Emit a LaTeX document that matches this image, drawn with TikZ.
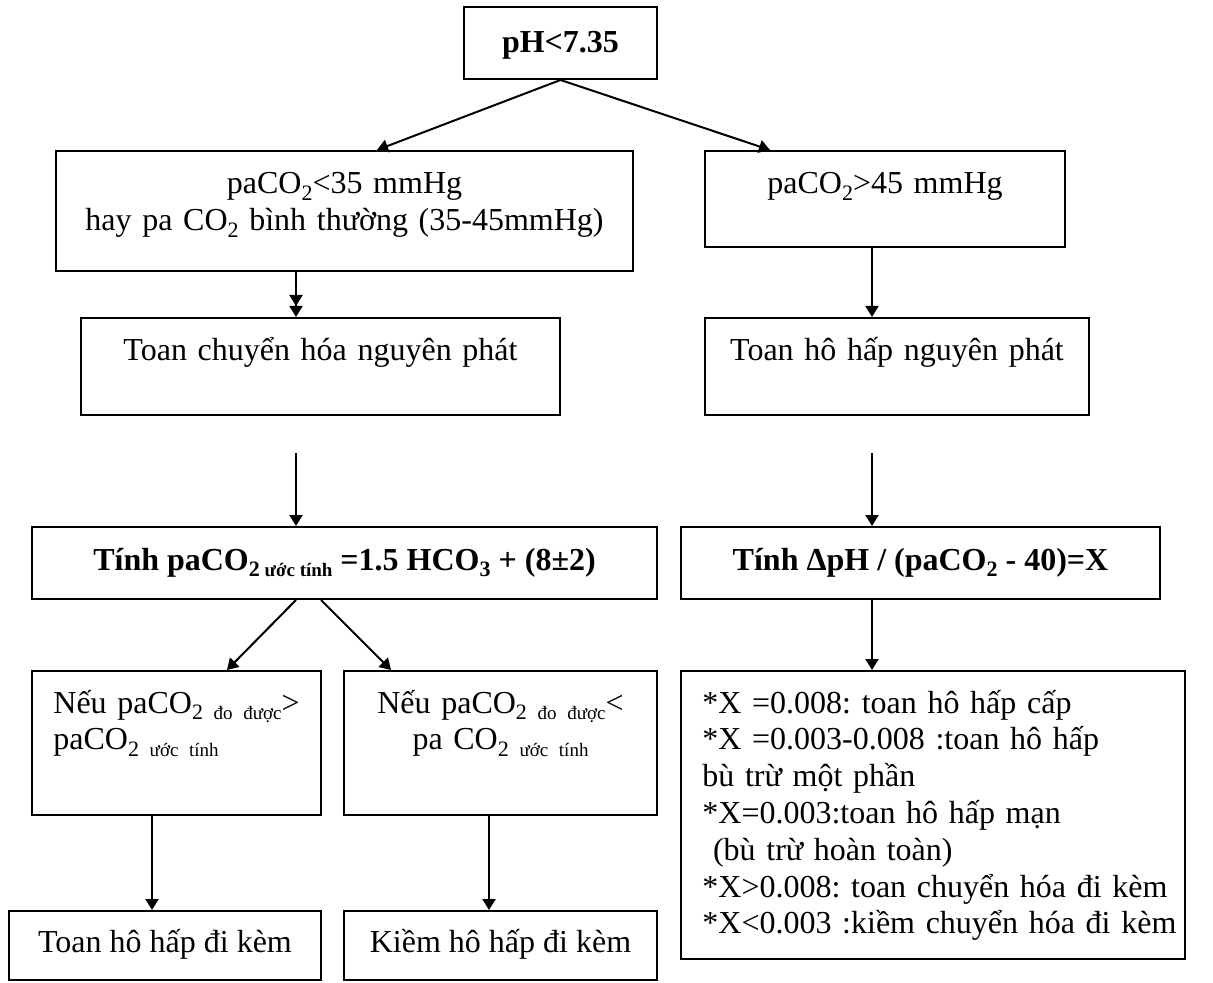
\documentclass[tikz,border=0pt]{standalone}
\usepackage{fontspec}
\setmainfont{Liberation Serif}
\usetikzlibrary{arrows.meta,fit,positioning}
\frenchspacing

\newcommand{\lowtext}[2][11]{\raisebox{-0.2em}{\fontsize{#1}{#1}\selectfont #2}}

\begin{document}
\begin{tikzpicture}[x=0.5pt, y=-0.5pt,
    font=\fontsize{16}{18.4}\selectfont,
    box/.style={draw, line width=1pt, inner sep=0pt},
    txt/.style={inner sep=0pt},
    arr/.style={-{Triangle[length=5.5pt,width=6.5pt]}, line width=1pt},
    arrtwo/.style={-{Triangle[length=5.5pt,width=6.5pt] Triangle[length=5.5pt,width=6.5pt]}, line width=1pt}]

    \useasboundingbox (0,0) rectangle (1213,983);

    % boxes
    \node[box, fit={(464,7) (657,79)}] (ph) {};
    \node[box, fit={(56,151) (633,271)}] (low) {};
    \node[box, fit={(705,151) (1065,247)}] (high) {};
    \node[box, fit={(81,318) (560,415)}] (metab) {};
    \node[box, fit={(705,318) (1089,415)}] (resp) {};
    \node[box, fit={(32,527) (657,599)}] (calcm) {};
    \node[box, fit={(681,527) (1160,599)}] (calcr) {};
    \node[box, fit={(32,671) (321,815)}] (above) {};
    \node[box, fit={(344,671) (657,815)}] (below) {};
    \node[box, fit={(681,671) (1185,959)}] (rules) {};
    \node[box, fit={(9,911) (321,980)}] (racid) {};
    \node[box, fit={(344,911) (657,980)}] (ralk) {};

    % texts
    \node[txt, anchor=base, font=\fontsize{16}{18.4}\selectfont\bfseries] (phtxt)
        at ([yshift=-5pt]ph.center) {pH<7.35};
    \node[txt, anchor=base, font=\fontsize{16}{18.4}\selectfont\bfseries] (calcmtxt)
        at ([yshift=-3.5pt]calcm.center)
        {Tính paCO\lowtext{2}\lowtext[9.5]{\ ước tính} =1.5 HCO\lowtext{3} + (8±2)};
    \node[txt, anchor=base, font=\fontsize{16}{18.4}\selectfont\bfseries] (calcrtxt)
        at ([yshift=-3.5pt]calcr.center) {Tính ΔpH / (paCO\lowtext{2} - 40)=X};
    \node[txt, anchor=base] (racidtxt) at ([yshift=-3.25pt]racid.center) {Toan hô hấp đi kèm};
    \node[txt, anchor=base] (ralktxt) at ([yshift=-3.25pt]ralk.center) {Kiềm hô hấp đi kèm};

    \node[txt, text width=280pt, align=center, anchor=base] (lowtxt) at (344.5,194)
        {paCO\lowtext{2}<35 mmHg\\hay pa CO\lowtext{2} bình thường (35-45mmHg)};
    \node[txt, text width=170pt, align=center, anchor=base] (hightxt) at (885,194)
        {paCO\lowtext{2}>45 mmHg};
    \node[txt, text width=230pt, align=center, anchor=base] (metabtxt) at (320.5,361)
        {Toan chuyển hóa nguyên phát};
    \node[txt, text width=185pt, align=center, anchor=base] (resptxt) at (897,361)
        {Toan hô hấp nguyên phát};
    \node[txt, text width=140pt, align=left, anchor=base west] (abovetxt) at (53,713)
        {Nếu paCO\lowtext{2}\lowtext[9.5]{\ đo được}>\\paCO\lowtext{2}\lowtext[9.5]{\ ước tính}};
    \node[txt, text width=150pt, align=center, anchor=base] (belowtxt) at (500.5,713)
        {Nếu paCO\lowtext{2}\lowtext[9.5]{\ đo được}<\\pa CO\lowtext{2}\lowtext[9.5]{\ ước tính}};
    \node[txt, text width=240pt, align=left, anchor=base west] (rulestxt) at (702,713)
        {*X =0.008: toan hô hấp cấp\\{}
         *X =0.003-0.008 :toan hô hấp\\{}
         bù trừ một phần\\{}
         *X=0.003:toan hô hấp mạn\\{}
         ~(bù trừ hoàn toàn)\\{}
         *X>0.008: toan chuyển hóa đi kèm\\{}
         *X<0.003 :kiềm chuyển hóa đi kèm};

    % columns of the straight arrows
    \coordinate (colL) at (296,0);
    \coordinate (colR) at (872,0);
    \coordinate (colA) at (152,0);
    \coordinate (colB) at (489,0);
    \coordinate (freeL) at (296,453);
    \coordinate (freeR) at (872,453);

    \draw[arr] (ph.south) -- ([xshift=16.25pt]low.north);
    \draw[arr] (ph.south) -- ([xshift=-57.5pt]high.north);
    \draw[arrtwo] (low.south -| colL) -- (metab.north -| colL);
    \draw[arr] (high.south -| colR) -- (resp.north -| colR);
    \draw[arr] (freeL) -- (calcm.north -| freeL);
    \draw[arr] (freeR) -- (calcr.north -| freeR);
    \draw[arr] ([xshift=-24.25pt]calcm.south) -- ([xshift=25.25pt]above.north);
    \draw[arr] ([xshift=-11.75pt]calcm.south) -- ([xshift=-54.75pt]below.north);
    \draw[arr] (calcr.south -| colR) -- (rules.north -| colR);
    \draw[arr] (above.south -| colA) -- (racid.north -| colA);
    \draw[arr] (below.south -| colB) -- (ralk.north -| colB);
\end{tikzpicture}
\end{document}
